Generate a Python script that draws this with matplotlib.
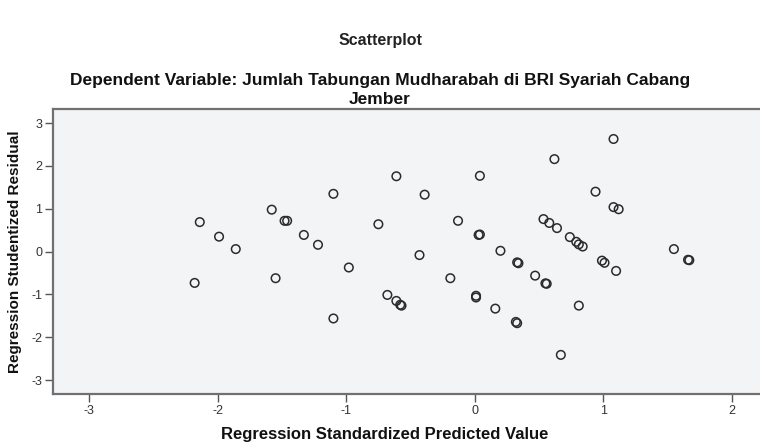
import numpy as np
import matplotlib.pyplot as plt

# === Data ===
pred = [-2.18, -2.14, -1.99, -1.86, -1.58, -1.55, -1.48, -1.46, -1.33, -1.22,
        -1.10, -1.10, -0.98, -0.75, -0.68, -0.61, -0.61, -0.58, -0.57, -0.43,
        -0.39, -0.19, -0.13, 0.01, 0.01, 0.03, 0.04, 0.04, 0.16, 0.20,
        0.32, 0.33, 0.33, 0.34, 0.47, 0.55, 0.56, 0.535, 0.58, 0.62,
        0.64, 0.67, 0.74, 0.79, 0.81, 0.84, 0.81, 0.94, 0.99, 1.01,
        1.08, 1.08, 1.10, 1.12, 1.55, 1.66, 1.67]
resid = [-0.73, 0.69, 0.35, 0.06, 0.98, -0.62, 0.72, 0.72, 0.39, 0.16,
         1.35, -1.56, -0.37, 0.64, -1.01, 1.76, -1.15, -1.24, -1.26, -0.08,
         1.33, -0.62, 0.72, -1.03, -1.07, 0.39, 0.40, 1.77, -1.33, 0.02,
         -1.64, -1.67, -0.25, -0.27, -0.56, -0.74, -0.75, 0.76, 0.67, 2.16,
         0.55, -2.41, 0.34, 0.23, 0.17, 0.12, -1.26, 1.40, -0.21, -0.26,
         2.63, 1.04, -0.45, 0.99, 0.06, -0.19, -0.20]

x_ticks = [-3, -2, -1, 0, 1, 2]
y_ticks = [-3, -2, -1, 0, 1, 2, 3]

title = "Scatterplot"
subtitle_lines = ["Dependent Variable: Jumlah Tabungan Mudharabah di BRI Syariah Cabang", "Jember"]
x_label = "Regression Standardized Predicted Value"
y_label = "Regression Studentized Residual"

plt.rcParams['font.family'] = ['Liberation Sans', 'DejaVu Sans']
plt.rcParams['axes.unicode_minus'] = False

fig = plt.figure(figsize=(7.6, 4.43), dpi=100)
W, H = 760, 443
ax = fig.add_axes([53.3 / W, 1 - 394.3 / H, 1 - 53.3 / W, (394.3 - 109) / H])

ax.set_facecolor('#f3f4f6')
ax.scatter(pred, resid, s=38, facecolors='none', edgecolors='#2b2b2b', linewidths=1.1, zorder=3)

ax.set_xlim(-3.28, 2.22)
ax.set_ylim(-3.33, 3.33)
ax.set_xticks(x_ticks)
ax.set_yticks(y_ticks)
ax.tick_params(axis='both', length=6, width=1, color='#555555', labelsize=9, labelcolor='#333333', pad=2)

for side in ['left', 'bottom', 'top']:
    ax.spines[side].set_color('#707070')
    ax.spines[side].set_linewidth(1.6)
ax.spines['right'].set_visible(False)

fig.text(0.5, 1 - 41 / H, title, ha='center', va='center', fontsize=11.5, fontweight='bold', color='#222222')
fig.text(0.5, 1 - 81 / H, subtitle_lines[0], ha='center', va='center', fontsize=12.5, fontweight='bold',
         color='#111111')
fig.text(0.5, 1 - 99 / H, subtitle_lines[1], ha='center', va='center', fontsize=12.5, fontweight='bold',
         color='#111111')
fig.text(385 / W, 1 - 435 / H, x_label, ha='center', va='center', fontsize=12, fontweight='bold', color='#111111')
fig.text(15 / W, 1 - 252 / H, y_label, ha='center', va='center', rotation=90, fontsize=11,
         fontweight='bold', color='#111111')

fig.savefig('out.png', dpi=100)
